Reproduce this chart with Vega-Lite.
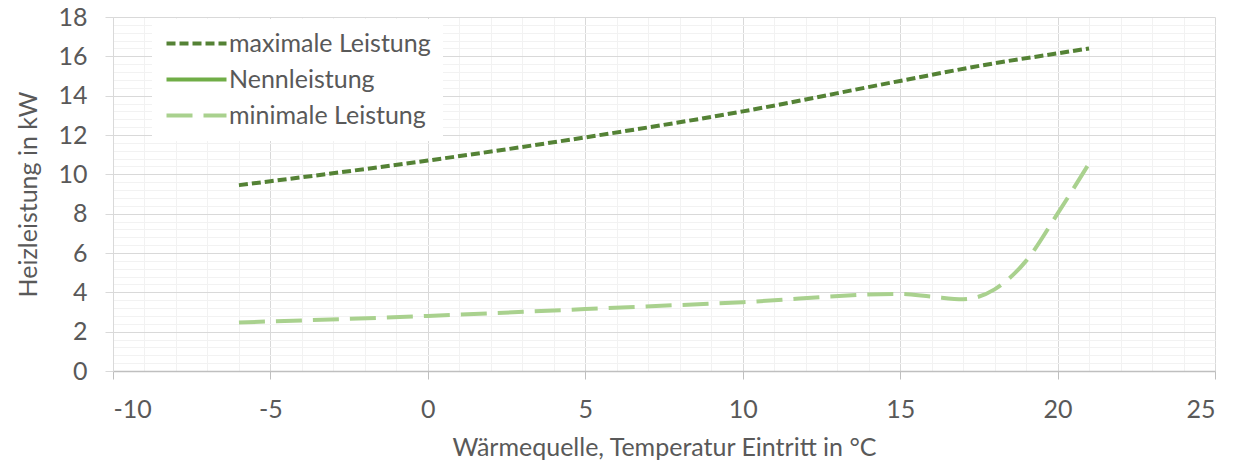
{
  "$schema": "https://vega.github.io/schema/vega-lite/v6.json",
  "width": 1102,
  "height": 354,
  "autosize": {"type": "none"},
  "padding": {"left": 113, "top": 17, "right": 26, "bottom": 92},
  "background": "white",
  "config": {
    "view": {"stroke": null},
    "font": "Lato",
    "axis": {"labelFont": "Lato", "titleFont": "Lato", "labelColor": "#595959", "titleColor": "#595959", "titleFontWeight": "normal"}
  },
  "data": {
    "values": [
      {"series": "maximale Leistung", "t": -6, "p": 9.45},
      {"series": "maximale Leistung", "t": -5, "p": 9.65},
      {"series": "maximale Leistung", "t": 0, "p": 10.7},
      {"series": "maximale Leistung", "t": 5, "p": 11.88},
      {"series": "maximale Leistung", "t": 10, "p": 13.2},
      {"series": "maximale Leistung", "t": 15, "p": 14.75},
      {"series": "maximale Leistung", "t": 18, "p": 15.65},
      {"series": "maximale Leistung", "t": 20, "p": 16.15},
      {"series": "maximale Leistung", "t": 21, "p": 16.4},
      {"series": "minimale Leistung", "t": -6, "p": 2.47},
      {"series": "minimale Leistung", "t": 0, "p": 2.8},
      {"series": "minimale Leistung", "t": 5, "p": 3.15},
      {"series": "minimale Leistung", "t": 10, "p": 3.5},
      {"series": "minimale Leistung", "t": 15, "p": 3.92},
      {"series": "minimale Leistung", "t": 16, "p": 3.78},
      {"series": "minimale Leistung", "t": 17, "p": 3.65},
      {"series": "minimale Leistung", "t": 18, "p": 4.15},
      {"series": "minimale Leistung", "t": 19, "p": 5.6},
      {"series": "minimale Leistung", "t": 20, "p": 8.0},
      {"series": "minimale Leistung", "t": 21, "p": 10.55}
    ]
  },
  "resolve": {"axis": {"x": "independent", "y": "independent"}},
  "layer": [
    {
      "mark": {"type": "point", "opacity": 0},
      "encoding": {
        "x": {"field": "t", "type": "quantitative", "scale": {"domain": [-10, 25], "nice": false, "zero": false},
          "axis": {"orient": "bottom", "values": [-9,-8,-7,-6,-4,-3,-2,-1,1,2,3,4,6,7,8,9,11,12,13,14,16,17,18,19,21,22,23,24], "grid": true, "gridColor": "#f2f2f2", "gridWidth": 1, "labels": false, "ticks": false, "domain": false, "title": null}},
        "y": {"field": "p", "type": "quantitative", "scale": {"domain": [0, 18], "nice": false},
          "axis": {"orient": "left", "values": [0.4,0.8,1.2,1.6,2.4,2.8,3.2,3.6,4.4,4.8,5.2,5.6,6.4,6.8,7.2,7.6,8.4,8.8,9.2,9.6,10.4,10.8,11.2,11.6,12.4,12.8,13.2,13.6,14.4,14.8,15.2,15.6,16.4,16.8,17.2,17.6], "grid": true, "gridColor": "#f2f2f2", "gridWidth": 1, "labels": false, "ticks": false, "domain": false, "title": null}}
      }
    },
    {
      "mark": {"type": "point", "opacity": 0},
      "encoding": {
        "x": {"field": "t", "type": "quantitative", "scale": {"domain": [-10, 25], "nice": false, "zero": false},
          "axis": {"orient": "bottom", "values": [-10,-5,0,5,10,15,20,25], "labelExpr": "toString(datum.value)", "grid": true, "gridColor": "#d9d9d9", "gridWidth": 1,
            "domainColor": "#bfbfbf", "domainWidth": 1.3, "tickColor": "#bfbfbf", "tickSize": 8, "labelPadding": 18, "labelFontSize": 25,
            "title": "Wärmequelle, Temperatur Eintritt in °C", "titleFontSize": 25, "titleX": 551, "titleY": 76, "titleBaseline": "middle", "titleAnchor": "middle"}},
        "y": {"field": "p", "type": "quantitative", "scale": {"domain": [0, 18], "nice": false},
          "axis": {"orient": "left", "values": [0,2,4,6,8,10,12,14,16,18], "grid": true, "gridColor": "#d9d9d9", "gridWidth": 1,
            "domainColor": "#d9d9d9", "tickColor": "#d9d9d9", "tickSize": 8, "labelPadding": 18, "labelFontSize": 25,
            "title": "Heizleistung in kW", "titleFontSize": 25, "titleX": -85, "titleY": 177, "titleAngle": -90, "titleBaseline": "middle", "titleAnchor": "middle"}}
      }
    },
    {
      "mark": {"type": "line", "interpolate": "monotone", "strokeWidth": 4},
      "encoding": {
        "x": {"field": "t", "type": "quantitative", "axis": null},
        "y": {"field": "p", "type": "quantitative", "axis": null},
        "color": {"field": "series", "type": "nominal",
          "scale": {"domain": ["maximale Leistung", "Nennleistung", "minimale Leistung"], "range": ["#548235", "#70AD47", "#A9D18E"]},
          "legend": {"title": null, "orient": "none", "legendX": 39, "legendY": 2, "fillColor": "white", "padding": 12,
            "symbolType": "M-1,0H5", "symbolSize": 400, "symbolStrokeWidth": 4, "labelFontSize": 25, "labelFont": "Lato", "labelColor": "#595959",
            "rowPadding": 10, "labelOffset": 40, "labelLimit": 0}},
        "strokeDash": {"field": "series", "type": "nominal",
          "scale": {"domain": ["maximale Leistung", "Nennleistung", "minimale Leistung"], "range": [[9, 4], [1, 0], [26, 11]]},
          "legend": {"title": null}}
      }
    }
  ]
}
